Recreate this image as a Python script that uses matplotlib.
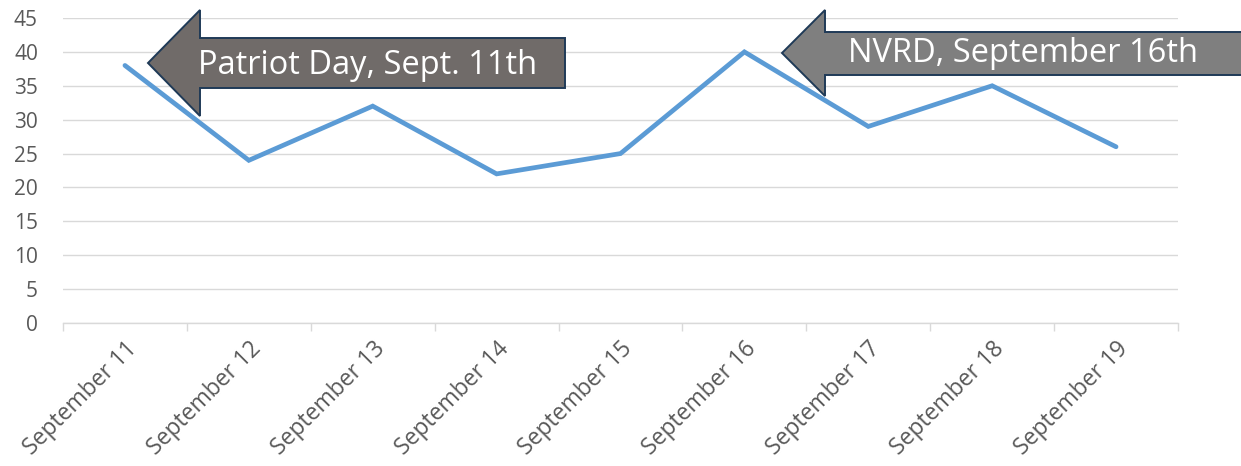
import matplotlib.pyplot as plt
from matplotlib.patches import Polygon

W, H = 1241, 466

days = ["September 11", "September 12", "September 13", "September 14",
        "September 15", "September 16", "September 17", "September 18",
        "September 19"]
counts = [38, 24, 32, 22, 25, 40, 29, 35, 26]
y_ticks = [0, 5, 10, 15, 20, 25, 30, 35, 40, 45]

FONT = ["Open Sans", "DejaVu Sans"]
plt.rcParams["font.family"] = FONT


def px(x, y):
    """pixel position -> figure fraction"""
    return (x / W, 1 - y / H)


fig = plt.figure(figsize=(W / 100, H / 100), dpi=100)
ax = fig.add_axes([63 / W, 1 - 323 / H, (1178 - 63) / W, (323 - 18) / H])

xs = range(len(days))
ax.plot(xs, counts, color="#5b9bd5", linewidth=3.4, solid_capstyle="round",
        solid_joinstyle="miter", zorder=3)

ax.set_xlim(-0.5, len(days) - 0.5)
ax.set_ylim(0, 45)
ax.set_yticks(y_ticks)
ax.set_yticklabels([str(v) for v in y_ticks])
ax.grid(axis="y", color="#d9d9d9", linewidth=1.0)
ax.set_axisbelow(True)

for side in ("top", "right", "left"):
    ax.spines[side].set_visible(False)
ax.spines["bottom"].set_color("#d9d9d9")
ax.spines["bottom"].set_linewidth(1.0)

ax.tick_params(axis="y", length=0, pad=18, labelsize=15, labelcolor="#595959")
ax.set_xticks([i - 0.5 for i in range(len(days) + 1)], minor=False)
ax.set_xticklabels([])
ax.tick_params(axis="x", which="major", length=6, color="#d9d9d9", width=1.0)
ax.set_xticks(list(xs), minor=True)
ax.set_xticklabels(days, minor=True, rotation=45, ha="right",
                   rotation_mode="anchor", fontsize=16.5, color="#595959")
ax.tick_params(axis="x", which="minor", length=0, pad=10)

# block arrow call-outs
callouts = [
    ("Patriot Day, Sept. 11th", "#706b69",
     [(148, 63), (200, 10), (200, 38), (565, 38), (565, 88), (200, 88), (200, 116)],
     (368, 66)),
    ("NVRD, September 16th", "#7f7f7f",
     [(782, 53), (825, 10), (825, 32), (1250, 32), (1250, 75), (825, 75), (825, 96)],
     (1023, 53)),
]
for label, fill, pts, centre in callouts:
    poly = Polygon([px(*p) for p in pts], closed=True, transform=fig.transFigure,
                   facecolor=fill, edgecolor="#1f3a57", linewidth=1.4,
                   zorder=5, clip_on=False)
    fig.add_artist(poly)
    fig.text(*px(*centre), label, ha="center", va="center", color="white",
             fontsize=23.5, zorder=6)

fig.savefig("out.png", dpi=100)
